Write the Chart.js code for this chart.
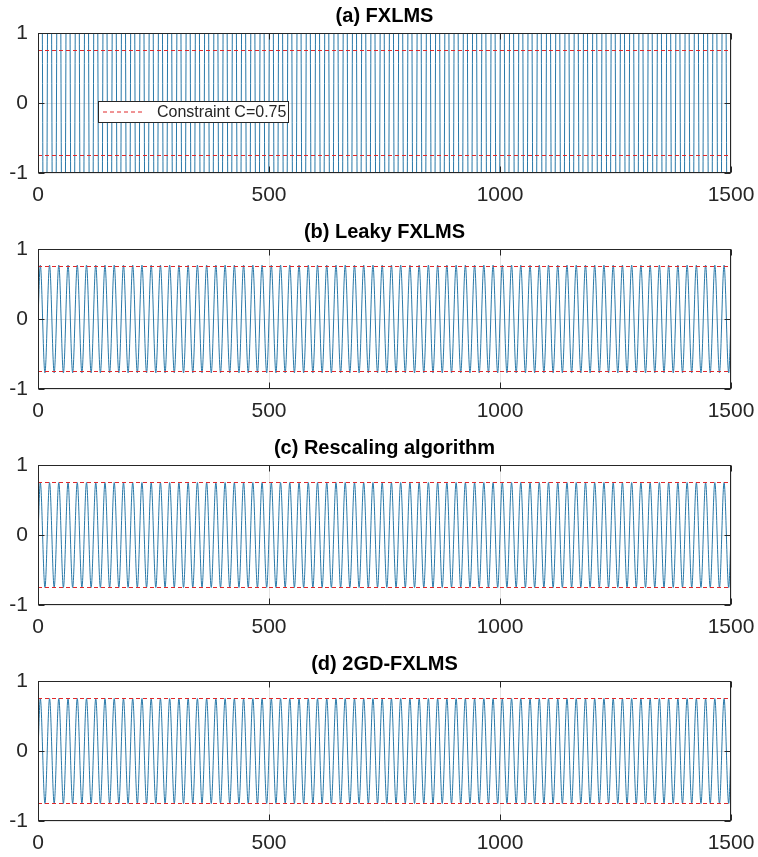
<!DOCTYPE html>
<html>
<head>
<meta charset="utf-8">
<script src="https://cdn.jsdelivr.net/npm/chart.js@4.4.1/dist/chart.umd.min.js"></script>
<style>
  html, body { margin: 0; padding: 0; background: #ffffff; overflow: hidden; }
  #wrap { position: relative; width: 758px; height: 857px; overflow: hidden; }
  .panel { position: absolute; left: 0; width: 758px; height: 216px; }
</style>
</head>
<body>
<div id="wrap">
  <div class="panel" style="top:0px"><canvas id="c0" width="758" height="216"></canvas></div>
  <div class="panel" style="top:216px"><canvas id="c1" width="758" height="216"></canvas></div>
  <div class="panel" style="top:432px"><canvas id="c2" width="758" height="216"></canvas></div>
  <div class="panel" style="top:648px"><canvas id="c3" width="758" height="216"></canvas></div>
</div>
<script>
// ---------------- data ----------------
const panelTitles = ["(a) FXLMS", "(b) Leaky FXLMS", "(c) Rescaling algorithm", "(d) 2GD-FXLMS"];
const xTicks = [0, 500, 1000, 1500];
const yTicks = [-1, 0, 1];
const constraintLevel = [0.75, -0.75];
const constraintLabel = "Constraint C=0.75";

// sample index of each extremum (peak / trough) of the control signal
const sampleIdx = [0,
  5,15,25,35,45,55,65,75,85,95,
  105,115,125,135,145,155,165,175,185,195,
  205,215,225,235,245,255,265,275,285,295,
  305,315,325,335,345,355,365,375,385,395,
  405,415,425,435,445,455,465,475,485,495,
  505,515,525,535,545,555,565,575,585,595,
  605,615,625,635,645,655,665,675,685,695,
  705,715,725,735,745,755,765,775,785,795,
  805,815,825,835,845,855,865,875,885,895,
  905,915,925,935,945,955,965,975,985,995,
  1005,1015,1025,1035,1045,1055,1065,1075,1085,1095,
  1105,1115,1125,1135,1145,1155,1165,1175,1185,1195,
  1205,1215,1225,1235,1245,1255,1265,1275,1285,1295,
  1305,1315,1325,1335,1345,1355,1365,1375,1385,1395,
  1405,1415,1425,1435,1445,1455,1465,1475,1485,1495,
  1500];

// (a) FXLMS: output far beyond the axis limits (clipped at +-1)
const fxlmsOut = [0,
  6,-6,6,-6,6,-6,6,-6,6,-6,
  6,-6,6,-6,6,-6,6,-6,6,-6,
  6,-6,6,-6,6,-6,6,-6,6,-6,
  6,-6,6,-6,6,-6,6,-6,6,-6,
  6,-6,6,-6,6,-6,6,-6,6,-6,
  6,-6,6,-6,6,-6,6,-6,6,-6,
  6,-6,6,-6,6,-6,6,-6,6,-6,
  6,-6,6,-6,6,-6,6,-6,6,-6,
  6,-6,6,-6,6,-6,6,-6,6,-6,
  6,-6,6,-6,6,-6,6,-6,6,-6,
  6,-6,6,-6,6,-6,6,-6,6,-6,
  6,-6,6,-6,6,-6,6,-6,6,-6,
  6,-6,6,-6,6,-6,6,-6,6,-6,
  6,-6,6,-6,6,-6,6,-6,6,-6,
  6,-6,6,-6,6,-6,6,-6,6,-6,
  0];

// (b) Leaky FXLMS
const leakyOut = [0,
  0.77,-0.77,0.77,-0.77,0.77,-0.77,0.77,-0.77,0.77,-0.77,
  0.77,-0.77,0.77,-0.77,0.77,-0.77,0.77,-0.77,0.77,-0.77,
  0.77,-0.77,0.77,-0.77,0.77,-0.77,0.77,-0.77,0.77,-0.77,
  0.77,-0.77,0.77,-0.77,0.77,-0.77,0.77,-0.77,0.77,-0.77,
  0.77,-0.77,0.77,-0.77,0.77,-0.77,0.77,-0.77,0.77,-0.77,
  0.77,-0.77,0.77,-0.77,0.77,-0.77,0.77,-0.77,0.77,-0.77,
  0.77,-0.77,0.77,-0.77,0.77,-0.77,0.77,-0.77,0.77,-0.77,
  0.77,-0.77,0.77,-0.77,0.77,-0.77,0.77,-0.77,0.77,-0.77,
  0.77,-0.77,0.77,-0.77,0.77,-0.77,0.77,-0.77,0.77,-0.77,
  0.77,-0.77,0.77,-0.77,0.77,-0.77,0.77,-0.77,0.77,-0.77,
  0.77,-0.77,0.77,-0.77,0.77,-0.77,0.77,-0.77,0.77,-0.77,
  0.77,-0.77,0.77,-0.77,0.77,-0.77,0.77,-0.77,0.77,-0.77,
  0.77,-0.77,0.77,-0.77,0.77,-0.77,0.77,-0.77,0.77,-0.77,
  0.77,-0.77,0.77,-0.77,0.77,-0.77,0.77,-0.77,0.77,-0.77,
  0.77,-0.77,0.77,-0.77,0.77,-0.77,0.77,-0.77,0.77,-0.77,
  0];

// (c) Rescaling algorithm
const rescaleOut = [0,
  0.75,-0.75,0.75,-0.75,0.75,-0.75,0.75,-0.75,0.75,-0.75,
  0.75,-0.75,0.75,-0.75,0.75,-0.75,0.75,-0.75,0.75,-0.75,
  0.75,-0.75,0.75,-0.75,0.75,-0.75,0.75,-0.75,0.75,-0.75,
  0.75,-0.75,0.75,-0.75,0.75,-0.75,0.75,-0.75,0.75,-0.75,
  0.75,-0.75,0.75,-0.75,0.75,-0.75,0.75,-0.75,0.75,-0.75,
  0.75,-0.75,0.75,-0.75,0.75,-0.75,0.75,-0.75,0.75,-0.75,
  0.75,-0.75,0.75,-0.75,0.75,-0.75,0.75,-0.75,0.75,-0.75,
  0.75,-0.75,0.75,-0.75,0.75,-0.75,0.75,-0.75,0.75,-0.75,
  0.75,-0.75,0.75,-0.75,0.75,-0.75,0.75,-0.75,0.75,-0.75,
  0.75,-0.75,0.75,-0.75,0.75,-0.75,0.75,-0.75,0.75,-0.75,
  0.75,-0.75,0.75,-0.75,0.75,-0.75,0.75,-0.75,0.75,-0.75,
  0.75,-0.75,0.75,-0.75,0.75,-0.75,0.75,-0.75,0.75,-0.75,
  0.75,-0.75,0.75,-0.75,0.75,-0.75,0.75,-0.75,0.75,-0.75,
  0.75,-0.75,0.75,-0.75,0.75,-0.75,0.75,-0.75,0.75,-0.75,
  0.75,-0.75,0.75,-0.75,0.75,-0.75,0.75,-0.75,0.75,-0.75,
  0];

// (d) 2GD-FXLMS
const gd2Out = [0,
  0.75,-0.75,0.75,-0.75,0.75,-0.75,0.75,-0.75,0.75,-0.75,
  0.75,-0.75,0.75,-0.75,0.75,-0.75,0.75,-0.75,0.75,-0.75,
  0.75,-0.75,0.75,-0.75,0.75,-0.75,0.75,-0.75,0.75,-0.75,
  0.75,-0.75,0.75,-0.75,0.75,-0.75,0.75,-0.75,0.75,-0.75,
  0.75,-0.75,0.75,-0.75,0.75,-0.75,0.75,-0.75,0.75,-0.75,
  0.75,-0.75,0.75,-0.75,0.75,-0.75,0.75,-0.75,0.75,-0.75,
  0.75,-0.75,0.75,-0.75,0.75,-0.75,0.75,-0.75,0.75,-0.75,
  0.75,-0.75,0.75,-0.75,0.75,-0.75,0.75,-0.75,0.75,-0.75,
  0.75,-0.75,0.75,-0.75,0.75,-0.75,0.75,-0.75,0.75,-0.75,
  0.75,-0.75,0.75,-0.75,0.75,-0.75,0.75,-0.75,0.75,-0.75,
  0.75,-0.75,0.75,-0.75,0.75,-0.75,0.75,-0.75,0.75,-0.75,
  0.75,-0.75,0.75,-0.75,0.75,-0.75,0.75,-0.75,0.75,-0.75,
  0.75,-0.75,0.75,-0.75,0.75,-0.75,0.75,-0.75,0.75,-0.75,
  0.75,-0.75,0.75,-0.75,0.75,-0.75,0.75,-0.75,0.75,-0.75,
  0.75,-0.75,0.75,-0.75,0.75,-0.75,0.75,-0.75,0.75,-0.75,
  0];

const panelSeries = [fxlmsOut, leakyOut, rescaleOut, gd2Out];

// ---------------- styling / drawing ----------------
const FONT = "Arial, 'Liberation Sans', Helvetica, sans-serif";
Chart.defaults.font.family = FONT;
const AX = '#262626';
const SIG = '#2878a8';
const RED = '#e0282a';

const boxPlugin = {
  id: 'matlabBox',
  afterDatasetsDraw(chart) {
    const { ctx, chartArea: a, scales } = chart;
    const L = Math.round(a.left) + 0.5, R = Math.round(a.right) - 0.5;
    const T = Math.round(a.top) + 0.5, B = Math.round(a.bottom) - 0.5;
    ctx.save();
    ctx.strokeStyle = AX;
    ctx.lineWidth = 1;
    ctx.strokeRect(L, T, R - L, B - T);
    const tl = 6;
    ctx.beginPath();
    xTicks.forEach(v => {
      const px = Math.round(scales.x.getPixelForValue(v)) + 0.5;
      ctx.moveTo(px, B); ctx.lineTo(px, B - tl);
      ctx.moveTo(px, T); ctx.lineTo(px, T + tl);
    });
    yTicks.forEach(v => {
      const py = Math.round(scales.y.getPixelForValue(v)) + 0.5;
      ctx.moveTo(L, py); ctx.lineTo(L + tl, py);
      ctx.moveTo(R, py); ctx.lineTo(R - tl, py);
    });
    ctx.stroke();
    ctx.restore();
  },
  afterDraw(chart) {
    const opt = chart.options.plugins.matlabBox;
    if (!opt || !opt.legend) return;
    const { ctx, chartArea: a } = chart;
    const x0 = a.left + 60, y0 = 101, w = 190, h = 21;
    ctx.save();
    ctx.fillStyle = '#ffffff';
    ctx.fillRect(x0, y0, w, h);
    ctx.strokeStyle = AX;
    ctx.lineWidth = 1;
    ctx.strokeRect(Math.round(x0) + 0.5, y0 + 0.5, w, h);
    ctx.strokeStyle = RED;
    ctx.setLineDash([4, 3]);
    ctx.beginPath();
    ctx.moveTo(x0 + 5, y0 + h / 2 + 0.5);
    ctx.lineTo(x0 + 47, y0 + h / 2 + 0.5);
    ctx.stroke();
    ctx.setLineDash([]);
    ctx.fillStyle = AX;
    ctx.font = '16px ' + FONT;
    ctx.textBaseline = 'middle';
    ctx.textAlign = 'left';
    ctx.fillText(constraintLabel, x0 + 59, y0 + h / 2 + 1);
    ctx.restore();
  }
};

function makePanel(i) {
  const series = panelSeries[i];
  const datasets = [
    {
      data: sampleIdx.map((s, k) => ({ x: s, y: series[k] })),
      borderColor: SIG, borderWidth: 1, pointRadius: 0,
      cubicInterpolationMode: 'monotone', order: 2
    }
  ];
  constraintLevel.forEach(c => {
    datasets.push({
      data: [{ x: xTicks[0], y: c }, { x: xTicks[xTicks.length - 1], y: c }],
      borderColor: RED, borderWidth: 1, borderDash: [4, 3], pointRadius: 0, order: 1
    });
  });
  new Chart(document.getElementById('c' + i), {
    type: 'line',
    data: { datasets },
    plugins: [boxPlugin],
    options: {
      responsive: false, animation: false, devicePixelRatio: 1,
      layout: { padding: { left: 0, right: 27, top: 0, bottom: 0 } },
      plugins: {
        legend: { display: false },
        tooltip: { enabled: false },
        title: {
          display: true, text: panelTitles[i], fullSize: false,
          color: '#000000', font: { size: 20, weight: 'bold', family: FONT },
          padding: { top: 4, bottom: 5 }
        },
        matlabBox: { legend: i === 0 }
      },
      scales: {
        x: {
          type: 'linear', min: 0, max: 1500,
          afterBuildTicks: s => { s.ticks = xTicks.map(v => ({ value: v })); },
          afterFit: s => { s.height = 43; s.paddingLeft = 0; s.paddingRight = 0; },
          grid: { color: '#e4e4e4', drawTicks: false },
          border: { display: false },
          ticks: { color: AX, font: { size: 21 }, padding: 10, maxRotation: 0, autoSkip: false,
                   callback: v => String(v) }
        },
        y: {
          type: 'linear', min: -1, max: 1,
          afterBuildTicks: s => { s.ticks = yTicks.map(v => ({ value: v })); },
          afterFit: s => { s.width = 38; s.paddingTop = 0; s.paddingBottom = 0; },
          grid: { color: '#e4e4e4', drawTicks: false },
          border: { display: false },
          ticks: { color: AX, font: { size: 21 }, padding: 10, callback: v => String(v) }
        }
      }
    }
  });
}
[0, 1, 2, 3].forEach(makePanel);
</script>
</body>
</html>
